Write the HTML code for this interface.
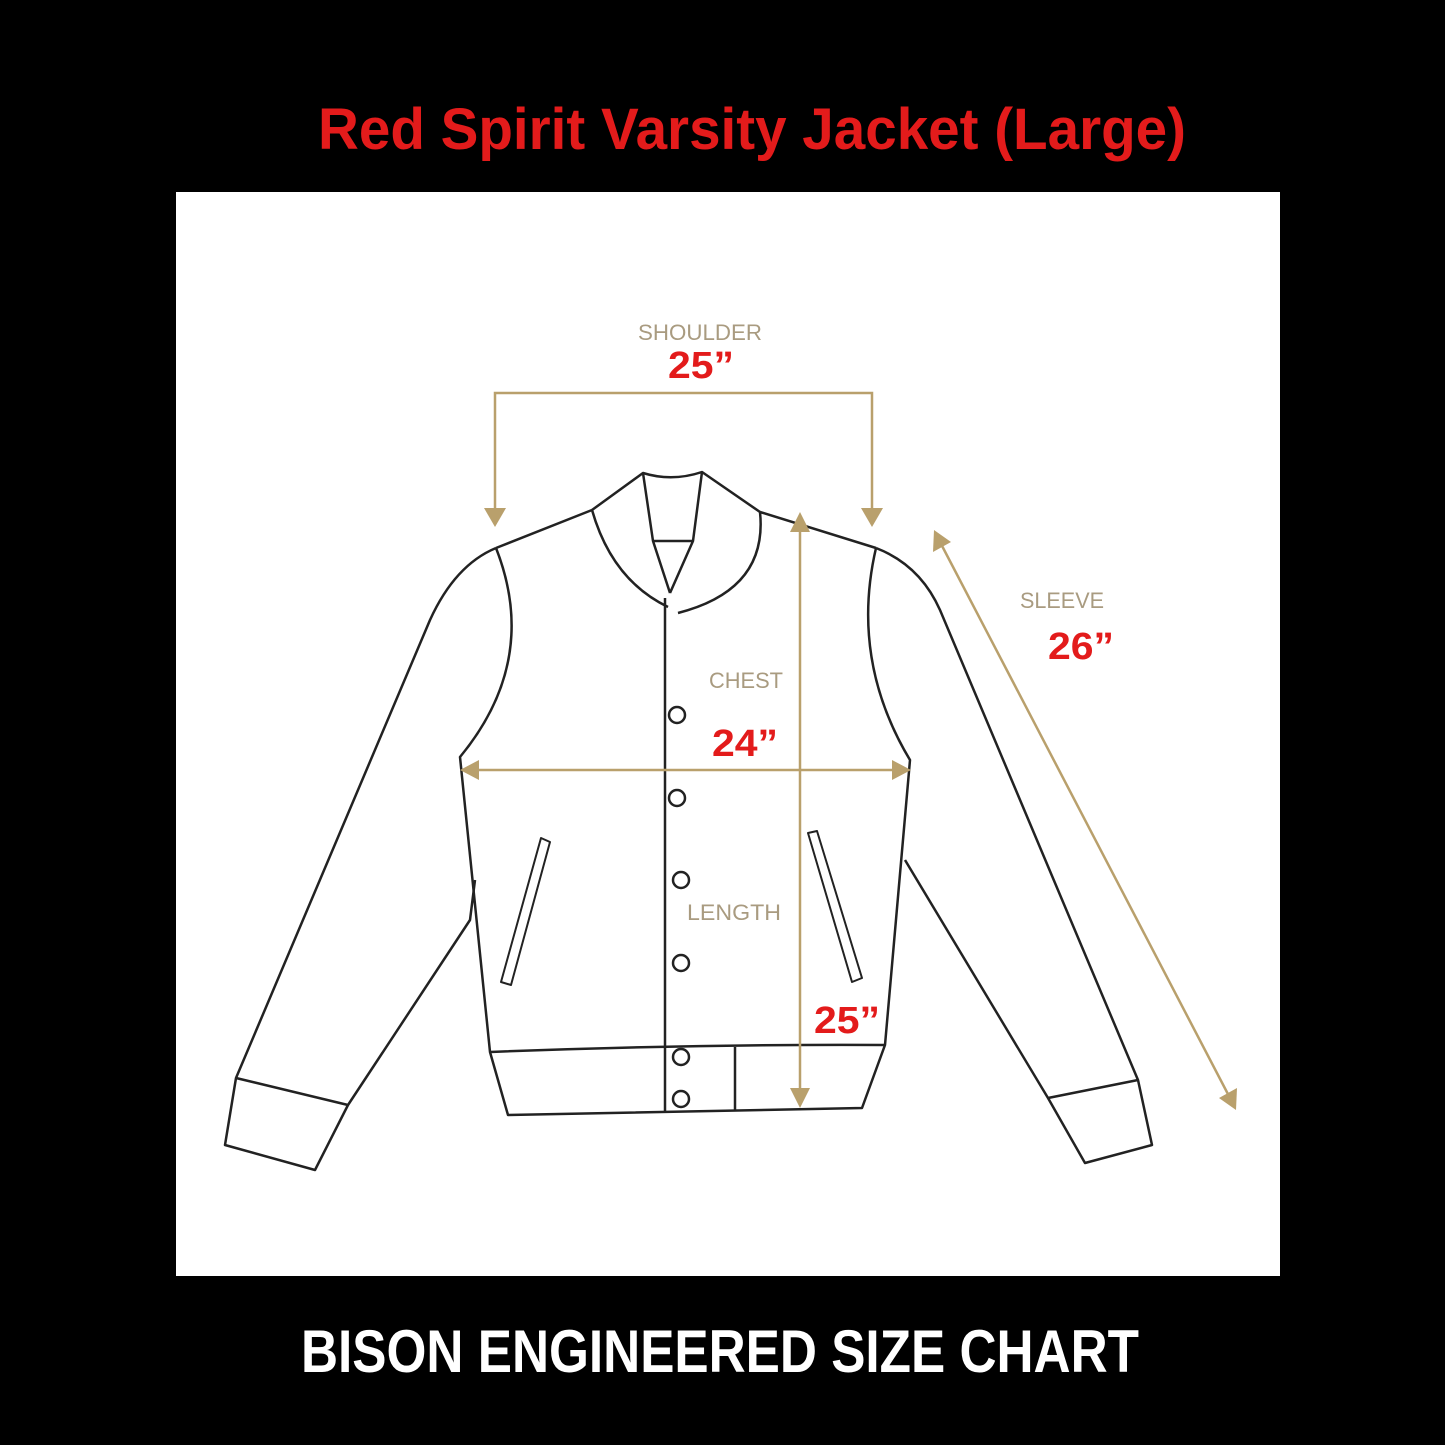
<!DOCTYPE html>
<html><head><meta charset="utf-8"><style>
html,body{margin:0;padding:0;background:#000;}
svg{display:block}
</style></head><body>
<svg width="1445" height="1445" viewBox="0 0 1445 1445" xmlns="http://www.w3.org/2000/svg">
<rect width="1445" height="1445" fill="#000"/>
<text x="752" y="149" text-anchor="middle" font-family="Liberation Sans Narrow, Liberation Sans, sans-serif" font-weight="bold" font-size="58" fill="#e31b1b" textLength="868" lengthAdjust="spacingAndGlyphs">Red Spirit Varsity Jacket (Large)</text>
<rect x="176" y="192" width="1104" height="1084" fill="#fff"/>
<text x="720" y="1372" text-anchor="middle" font-family="Liberation Sans Narrow, Liberation Sans, sans-serif" font-weight="bold" font-size="60" fill="#fff" textLength="838" lengthAdjust="spacingAndGlyphs">BISON ENGINEERED SIZE CHART</text>

<g fill="none" stroke="#222" stroke-width="2.5" stroke-linejoin="round">
<!-- collar -->
<path d="M592,510 L643,473 Q672,482 702,472 L760,512"/>
<path d="M643,473 L653,541 L670,593 M702,472 L693,541 L670,593 M653,541 L693,541"/>
<path d="M592,510 Q612,580 668,607"/>
<path d="M760,512 Q768,590 678,613"/>
<!-- shoulders -->
<path d="M592,510 L496,548 M760,512 L876,548"/>
<!-- left armhole & body -->
<path d="M496,548 Q540,660 460,757 L490,1052 L508,1115 L862,1108 L885,1045 L910,760 Q850,660 876,548"/>
<path d="M490,1052 Q690,1044 885,1045"/>
<!-- placket -->
<path d="M665,598 L665,1112 M735,1047 L735,1110"/>
<!-- left sleeve -->
<path d="M496,548 Q455,565 430,620 L236,1078 L225,1145 L315,1170 L348,1105 L470,920 L475,880"/>
<path d="M236,1078 L348,1105"/>
<!-- right sleeve -->
<path d="M876,548 Q920,565 940,610 L1138,1080 L1152,1145 L1085,1163 L1048,1098 L905,860"/>
<path d="M1138,1080 L1048,1098"/>
<!-- pockets -->
<path d="M541,838 L550,842 L511,985 L501,982 Z" stroke-width="2"/>
<path d="M808,833 L817,831 L862,978 L852,982 Z" stroke-width="2"/>
</g>
<g fill="#fff" stroke="#222" stroke-width="2.5">
<circle cx="677" cy="715" r="8"/><circle cx="677" cy="798" r="8"/>
<circle cx="681" cy="880" r="8"/><circle cx="681" cy="963" r="8"/>
<circle cx="681" cy="1057" r="8"/><circle cx="681" cy="1099" r="8"/>
</g>

<g stroke="#b9a06c" stroke-width="2.5" fill="none">
<path d="M495,510 L495,393 L872,393 L872,510"/>
<path d="M475,770 L898,770"/>
<path d="M800,525 L800,1095"/>
<path d="M940,542 L1230,1098"/>
</g>
<g fill="#b9a06c">
<path d="M484,508 L506,508 L495,527 Z"/>
<path d="M861,508 L883,508 L872,527 Z"/>
<path d="M460,770 L479,760 L479,780 Z"/>
<path d="M911,770 L892,760 L892,780 Z"/>
<path d="M800,512 L790,532 L810,532 Z"/>
<path d="M800,1108 L790,1088 L810,1088 Z"/>
<path d="M934,530 L933,552 L951,542 Z"/>
<path d="M1236,1110 L1237,1088 L1219,1098 Z"/>
</g>

<g font-family="Liberation Sans, sans-serif" fill="#a99b80" font-size="22">
<text x="700" y="340" text-anchor="middle" textLength="124" lengthAdjust="spacingAndGlyphs">SHOULDER</text>
<text x="1062" y="608" text-anchor="middle" textLength="84" lengthAdjust="spacingAndGlyphs">SLEEVE</text>
<text x="746" y="688" text-anchor="middle" textLength="74" lengthAdjust="spacingAndGlyphs">CHEST</text>
<text x="734" y="920" text-anchor="middle" textLength="94" lengthAdjust="spacingAndGlyphs">LENGTH</text>
</g>
<g font-family="Liberation Sans Narrow, Liberation Sans, sans-serif" font-weight="bold" fill="#e31b1b" font-size="38">
<text x="701" y="378" text-anchor="middle" textLength="66" lengthAdjust="spacingAndGlyphs">25”</text>
<text x="1081" y="659" text-anchor="middle" textLength="66" lengthAdjust="spacingAndGlyphs">26”</text>
<text x="745" y="756" text-anchor="middle" textLength="66" lengthAdjust="spacingAndGlyphs">24”</text>
<text x="847" y="1033" text-anchor="middle" textLength="66" lengthAdjust="spacingAndGlyphs">25”</text>
</g>
</svg>
</body></html>
